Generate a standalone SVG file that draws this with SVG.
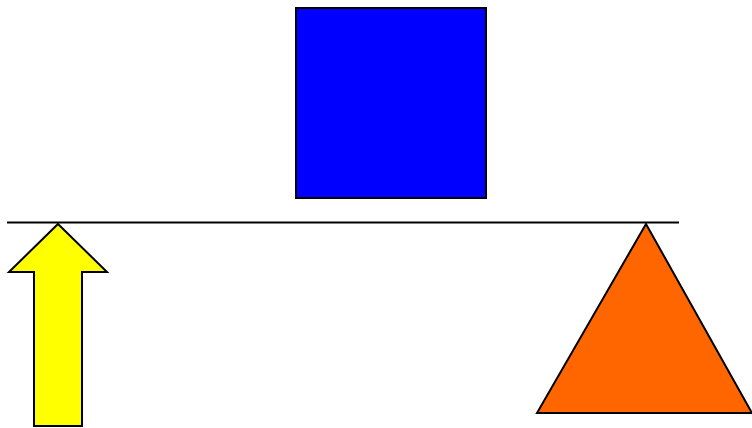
<svg xmlns="http://www.w3.org/2000/svg" width="752" height="428" viewBox="0 0 752 428">
<style>
.s{stroke:#000;stroke-width:2;stroke-linejoin:miter}
</style>
<rect width="752" height="428" fill="#fff"/>
<g id="connectors">
<line x1="7" y1="222.5" x2="679" y2="222.5" class="s" fill="none"/>
</g>
<g id="square"><rect x="296" y="8" width="190" height="190" fill="#0000ff" class="s"/></g>
<g id="arrow"><polygon points="58,224 107,272 82,272 82,426 34,426 34,272 9,272" fill="#ffff00" class="s"/></g>
<g id="triangle"><polygon points="646,224 537,413 752,413" fill="#ff6600" class="s"/></g>
</svg>
